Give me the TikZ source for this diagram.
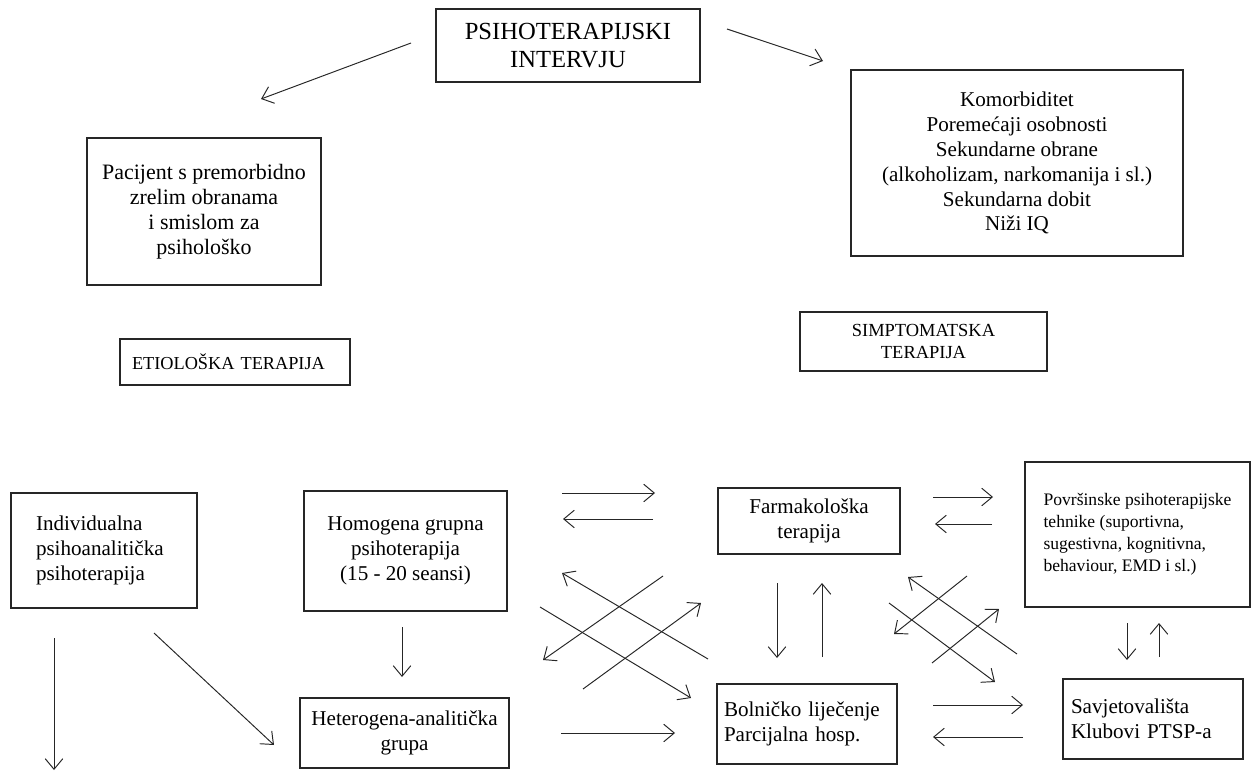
\documentclass[tikz,border=0pt]{standalone}
\usepackage{fontspec}
\setmainfont{Liberation Serif}
\usetikzlibrary{arrows.meta}
\begin{document}
\begin{tikzpicture}[box/.style={rectangle, draw=black!85, line width=0.8pt, inner sep=2pt,
        font=\fontsize{12}{14.2}\selectfont},
    arr/.style={->, line width=0.55pt, black!85},
    >={Straight Barb[length=6pt,width=10pt]}]
    \useasboundingbox (0,0) rectangle (25.04,-15.48);
        \node[box, minimum width=5.28cm, minimum height=1.46cm, align=center,
            font=\fontsize{14}{15.5}\selectfont] (intervju) at (11.36,-0.91) {PSIHOTERAPIJSKI\\INTERVJU};
        \node[box, minimum width=4.68cm, minimum height=2.94cm, align=center,
            font=\fontsize{12.5}{14.2}\selectfont] (pacijent) at (4.08,-4.23)
            {Pacijent s premorbidno\\zrelim obranama\\i smislom za\\psihološko};
        \node[box, minimum width=4.6cm, minimum height=0.92cm, text width=4.12cm, align=left,
            font=\fontsize{10.4}{12}\selectfont] (etiologija) at (4.70,-7.24) {ETIOLOŠKA TERAPIJA};
        \node[box, minimum width=6.64cm, minimum height=3.72cm, align=center] (komorbiditet) at (20.34,-3.26)
            {Komorbiditet\\Poremećaji osobnosti\\Sekundarne obrane\\(alkoholizam, narkomanija i sl.)\\Sekundarna dobit\\Niži IQ};
        \node[box, minimum width=4.94cm, minimum height=1.18cm, align=center,
            font=\fontsize{10.5}{12}\selectfont] (simptomatska) at (18.47,-6.83) {SIMPTOMATSKA\\TERAPIJA};
        \node[box, minimum width=3.72cm, minimum height=2.3cm, text width=2.72cm, align=left] (individualna)
            at (2.08,-11.01) {Individualna\\psihoanalitička\\psihoterapija};
        \node[box, minimum width=4.06cm, minimum height=2.4cm, align=center] (homogena) at (8.11,-11.02)
            {Homogena grupna\\psihoterapija\\(15 - 20 seansi)};
        \node[box, minimum width=4.18cm, minimum height=1.4cm, align=center] (heterogena) at (8.09,-14.66)
            {Heterogena-analitička\\grupa};
        \node[box, minimum width=3.64cm, minimum height=1.32cm, align=center] (farmakoloska) at (16.18,-10.42)
            {Farmakološka\\terapija};
        \node[box, minimum width=4.5cm, minimum height=2.9cm, align=left,
            font=\fontsize{10}{12.5}\selectfont] (povrsinske) at (22.75,-10.69)
            {Površinske psihoterapijske\\tehnike (suportivna,\\sugestivna, kognitivna,\\behaviour, EMD i sl.)};
        \node[box, minimum width=3.6cm, minimum height=1.6cm, text width=3.32cm, align=left] (bolnicko)
            at (16.14,-14.48) {Bolničko liječenje\\Parcijalna hosp.};
        \node[box, minimum width=3.6cm, minimum height=1.6cm, text width=3.28cm, align=left] (savjetovalista)
            at (23.06,-14.38) {Savjetovališta\\Klubovi PTSP-a};
        \coordinate (intL1) at (8.22,-0.86);   \coordinate (intL2) at (5.22,-1.98);
        \coordinate (intR1) at (14.54,-0.58);  \coordinate (intR2) at (16.46,-1.22);
        \coordinate (hf1) at (11.24,-9.86);    \coordinate (hf2) at (13.10,-9.86);
        \coordinate (fh1) at (13.06,-10.38);   \coordinate (fh2) at (11.26,-10.38);
        \coordinate (fp1) at (18.66,-9.94);    \coordinate (fp2) at (19.86,-9.94);
        \coordinate (pf1) at (19.84,-10.48);   \coordinate (pf2) at (18.70,-10.48);
        \coordinate (fb1) at (15.54,-11.66);   \coordinate (fb2) at (15.54,-13.16);
        \coordinate (bf1) at (16.44,-13.14);   \coordinate (bf2) at (16.44,-11.66);
        \coordinate (xa1) at (10.80,-12.14);   \coordinate (xa2) at (13.82,-13.96);
        \coordinate (xb1) at (14.16,-13.18);   \coordinate (xb2) at (11.24,-11.46);
        \coordinate (xc1) at (13.26,-11.52);   \coordinate (xc2) at (10.86,-13.20);
        \coordinate (xd1) at (11.66,-13.78);   \coordinate (xd2) at (14.02,-12.06);
        \coordinate (ye1) at (20.34,-13.08);   \coordinate (ye2) at (18.16,-11.54);
        \coordinate (yf1) at (17.78,-12.06);   \coordinate (yf2) at (19.90,-13.64);
        \coordinate (yg1) at (19.34,-11.52);   \coordinate (yg2) at (17.88,-12.68);
        \coordinate (yh1) at (18.64,-13.26);   \coordinate (yh2) at (19.98,-12.18);
        \coordinate (hb1) at (11.22,-14.66);   \coordinate (hb2) at (13.50,-14.66);
        \coordinate (bs1) at (18.66,-14.10);   \coordinate (bs2) at (20.46,-14.10);
        \coordinate (sb1) at (20.46,-14.74);   \coordinate (sb2) at (18.66,-14.74);
        \coordinate (ps1) at (22.54,-12.46);   \coordinate (ps2) at (22.54,-13.20);
        \coordinate (sp1) at (23.18,-13.14);   \coordinate (sp2) at (23.18,-12.46);
        \coordinate (ind1) at (1.08,-12.76);   \coordinate (ind2) at (1.08,-15.40);
        \coordinate (ih1) at (3.08,-12.66);    \coordinate (ih2) at (5.48,-14.90);
        \coordinate (hh1) at (8.04,-12.54);    \coordinate (hh2) at (8.04,-13.54);
        \draw[arr] (intL1) -- (intL2);
        \draw[arr] (intR1) -- (intR2);
        \draw[arr] (hf1) -- (hf2);
        \draw[arr] (fh1) -- (fh2);
        \draw[arr] (fp1) -- (fp2);
        \draw[arr] (pf1) -- (pf2);
        \draw[arr] (fb1) -- (fb2);
        \draw[arr] (bf1) -- (bf2);
        \draw[arr] (xa1) -- (xa2);
        \draw[arr] (xb1) -- (xb2);
        \draw[arr] (xc1) -- (xc2);
        \draw[arr] (xd1) -- (xd2);
        \draw[arr] (ye1) -- (ye2);
        \draw[arr] (yf1) -- (yf2);
        \draw[arr] (yg1) -- (yg2);
        \draw[arr] (yh1) -- (yh2);
        \draw[arr] (hb1) -- (hb2);
        \draw[arr] (bs1) -- (bs2);
        \draw[arr] (sb1) -- (sb2);
        \draw[arr] (ps1) -- (ps2);
        \draw[arr] (sp1) -- (sp2);
        \draw[arr] (ind1) -- (ind2);
        \draw[arr] (ih1) -- (ih2);
        \draw[arr] (hh1) -- (hh2);
    \end{tikzpicture}
\end{document}
